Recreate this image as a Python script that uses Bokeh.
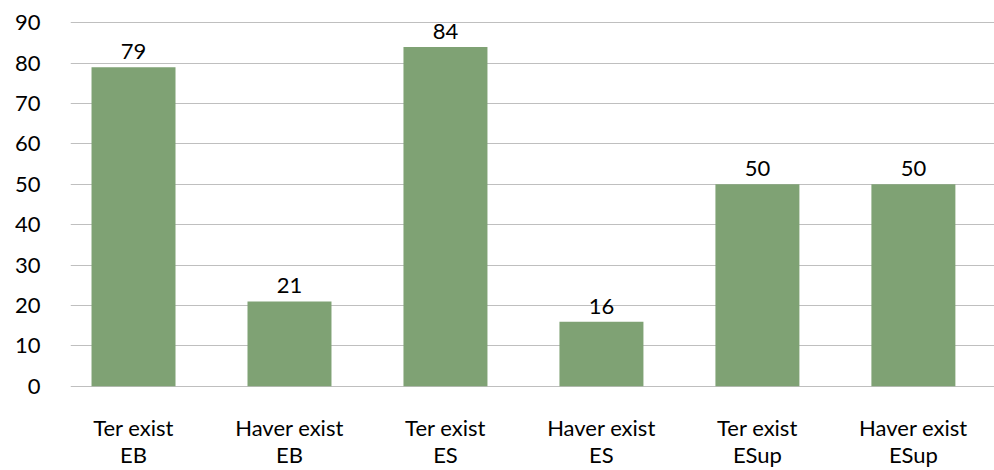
from bokeh.plotting import figure
from bokeh.models import ColumnDataSource, Range1d, FixedTicker
from bokeh.core.properties import value
from bokeh.embed import file_html
from bokeh.resources import INLINE

categories = ["Ter exist\nEB", "Haver exist\nEB", "Ter exist\nES", "Haver exist\nES", "Ter exist\nESup", "Haver exist\nESup"]
values = [79, 21, 84, 16, 50, 50]
y_ticks = [0, 10, 20, 30, 40, 50, 60, 70, 80, 90]

xs = [i + 0.5 for i in range(len(categories))]
src = ColumnDataSource(dict(x=xs, top=values, label=[str(v) for v in values]))

FONT = "Lato"

p = figure(width=994, height=470, output_backend="svg", toolbar_location=None,
           x_range=Range1d(0.096, 6.02), y_range=Range1d(-0.3, 90.3),
           min_border_left=70, min_border_right=0, min_border_top=21, min_border_bottom=80)
p.outline_line_color = None
p.background_fill_color = "white"
p.border_fill_color = "white"

p.vbar(x="x", top="top", bottom=0, width=84/156, source=src, fill_color="#7fa274", line_color=None)
p.text(x="x", y="top", text="label", source=src, text_align="center", text_baseline="bottom",
       y_offset=-8, text_font=value(FONT), text_font_size="22px", text_color="black")

p.xgrid.visible = False
p.ygrid.ticker = FixedTicker(ticks=y_ticks)
p.ygrid.grid_line_color = "#bfbfbf"
p.ygrid.grid_line_width = 1

p.yaxis.ticker = FixedTicker(ticks=y_ticks)
p.yaxis.axis_line_color = None
p.yaxis.major_tick_line_color = None
p.yaxis.minor_tick_line_color = None
p.yaxis.major_tick_out = 0
p.yaxis.major_tick_in = 0
p.yaxis.major_label_standoff = 30
p.yaxis.major_label_text_font = FONT
p.yaxis.major_label_text_font_size = "22px"
p.yaxis.major_label_text_color = "black"

p.xaxis.ticker = FixedTicker(ticks=xs)
p.xaxis.major_label_overrides = {x: c for x, c in zip(xs, categories)}
p.xaxis.axis_line_color = None
p.xaxis.major_tick_line_color = None
p.xaxis.minor_tick_line_color = None
p.xaxis.major_tick_out = 0
p.xaxis.major_tick_in = 0
p.xaxis.major_label_standoff = 26
p.xaxis.major_label_text_font = FONT
p.xaxis.major_label_text_font_size = "22px"
p.xaxis.major_label_text_color = "black"
p.xaxis.major_label_text_line_height = 1.0

open("out.html", "w").write(file_html(p, INLINE))
